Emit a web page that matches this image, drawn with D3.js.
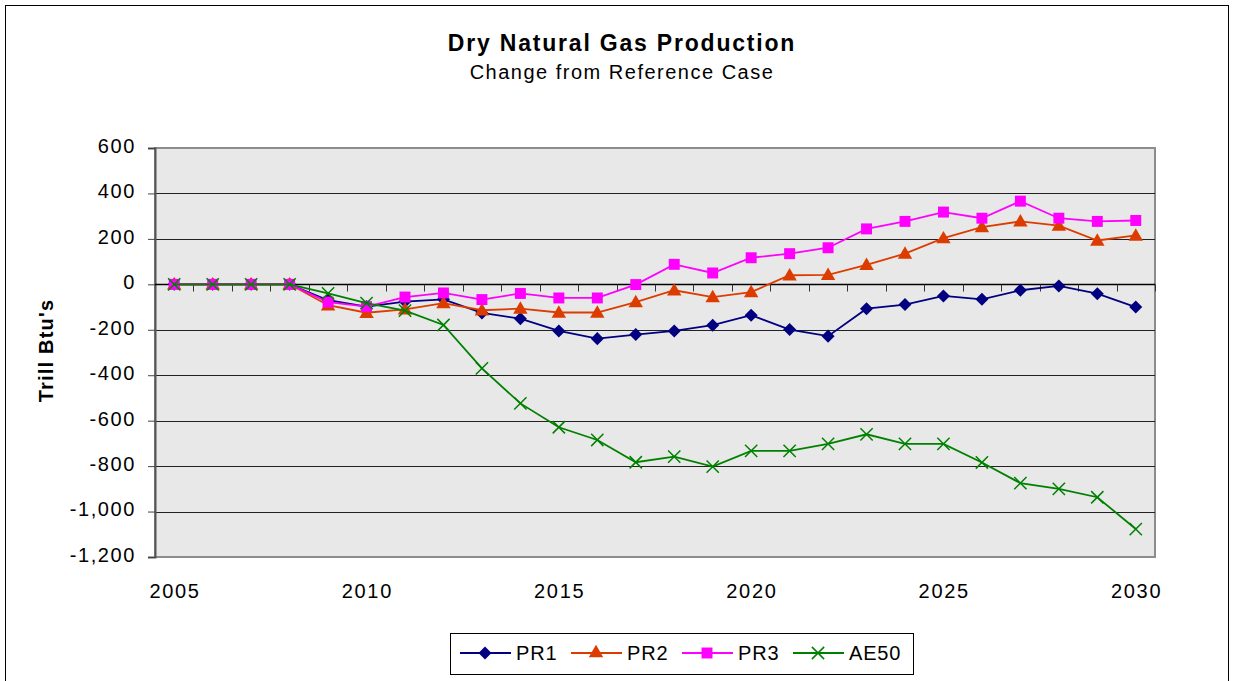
<!DOCTYPE html>
<html>
<head>
<meta charset="utf-8">
<script src="https://cdn.jsdelivr.net/npm/d3@7"></script>
<style>
  body { margin: 0; background: #fff; }
  text { font-family: "Liberation Sans", Arial, sans-serif; }
</style>
</head>
<body>
<script>
const width = 1233;
const height = 681;

const years = d3.range(2005, 2031);
const yTicks = [600, 400, 200, 0, -200, -400, -600, -800, -1000, -1200];
const xLabels = [2005, 2010, 2015, 2020, 2025, 2030];

const pr1 = [0, 0, 0, 0, -70, -98, -76, -66, -126, -151, -205, -239, -221, -205, -180, -136, -199, -228, -107, -89, -51, -66, -26, -7, -41, -100];
const pr2 = [0, 0, 0, 0, -92, -125, -110, -83, -114, -107, -124, -124, -78, -26, -56, -34, 40, 42, 86, 135, 203, 252, 277, 258, 193, 215];
const pr3 = [0, 0, 0, 0, -78, -98, -56, -38, -67, -40, -60, -60, -1, 88, 50, 117, 135, 161, 244, 277, 318, 291, 366, 291, 277, 281];
const ae50 = [0, 0, 0, 0, -40, -83, -116, -179, -370, -524, -629, -685, -783, -758, -802, -733, -733, -702, -660, -702, -702, -784, -875, -900, -937, -1077];

const series = [
  { name: "PR1", values: pr1, color: "#000080", symbol: "diamond" },
  { name: "PR2", values: pr2, color: "#dd3c00", symbol: "triangle" },
  { name: "PR3", values: pr3, color: "#ff00ff", symbol: "square" },
  { name: "AE50", values: ae50, color: "#008000", symbol: "cross" }
];

const plot = { left: 155, right: 1155, top: 148, bottom: 557 };

const svg = d3.select("body")
  .append("svg")
  .attr("width", width)
  .attr("height", height);

// chart frame
svg.append("rect")
  .attr("x", 5.5).attr("y", 5.5)
  .attr("width", 1223).attr("height", 700)
  .attr("fill", "#fff")
  .attr("stroke", "#000")
  .attr("stroke-width", 1);

const x = d3.scaleBand()
  .domain(years)
  .range([plot.left, plot.right]);

const y = d3.scaleLinear()
  .domain([-1200, 600])
  .range([plot.bottom, plot.top]);

const cx = (d) => x(d) + x.bandwidth() / 2;

// plot area
svg.append("rect")
  .attr("x", plot.left).attr("y", plot.top)
  .attr("width", plot.right - plot.left)
  .attr("height", plot.bottom - plot.top)
  .attr("fill", "#e8e8e8")
  .attr("stroke", "#8c8c8c")
  .attr("stroke-width", 2);

// gridlines
svg.append("g")
  .selectAll("line")
  .data(yTicks.filter((d) => d !== 600 && d !== -1200))
  .enter()
  .append("line")
  .attr("x1", plot.left).attr("x2", plot.right)
  .attr("y1", (d) => Math.round(y(d)) + 0.5)
  .attr("y2", (d) => Math.round(y(d)) + 0.5)
  .attr("stroke", "#222")
  .attr("stroke-width", 1);

// y axis
const yAxis = svg.append("g")
  .attr("transform", `translate(${plot.left},0)`)
  .call(d3.axisLeft(y)
    .tickValues(yTicks)
    .tickSize(7)
    .tickPadding(12)
    .tickFormat(d3.format(",")));
yAxis.select(".domain").attr("stroke", "#555").attr("stroke-width", 2);
yAxis.selectAll(".tick line").attr("stroke", "#444");
yAxis.selectAll(".tick text")
  .attr("font-size", 20)
  .attr("fill", "#000")
  .attr("dy", "0.22em")
  .style("font-family", "'Liberation Sans', Arial, sans-serif")
  .style("letter-spacing", "1.6px")
  .text((d) => d3.format(",")(d).replace("−", "-"));

// x axis on the zero line, ticks between categories
const zeroY = Math.round(y(0)) + 0.5;
svg.append("line")
  .attr("x1", plot.left).attr("x2", plot.right)
  .attr("y1", zeroY).attr("y2", zeroY)
  .attr("stroke", "#000").attr("stroke-width", 1.5);

svg.append("g")
  .selectAll("line")
  .data(years.slice(1).concat([2031]))
  .enter()
  .append("line")
  .attr("x1", (d) => Math.round(plot.left + (d - 2005) * x.bandwidth()) + 0.5)
  .attr("x2", (d) => Math.round(plot.left + (d - 2005) * x.bandwidth()) + 0.5)
  .attr("y1", zeroY)
  .attr("y2", zeroY + 7)
  .attr("stroke", "#333");

svg.append("g")
  .selectAll("text")
  .data(xLabels)
  .enter()
  .append("text")
  .attr("x", (d) => cx(d) + 0.8)
  .attr("y", 598)
  .attr("text-anchor", "middle")
  .attr("font-size", 20)
  .style("letter-spacing", "1.7px")
  .text((d) => d);

// lines
const line = d3.line()
  .x((d, i) => cx(years[i]))
  .y((d) => y(d));

const symbolType = {
  diamond: d3.symbolSquare,
  triangle: d3.symbolTriangle,
  square: d3.symbolSquare,
  cross: d3.symbolTimes
};
const symbolSize = { diamond: 85, triangle: 90, square: 120, cross: 100 };

function drawMarker(g, s) {
  const p = d3.symbol().type(symbolType[s.symbol]).size(symbolSize[s.symbol]);
  if (s.symbol === "cross") {
    g.attr("d", p).attr("fill", "none").attr("stroke", s.color).attr("stroke-width", 1.5);
  } else {
    g.attr("d", p).attr("fill", s.color).attr("stroke", "none");
  }
}
const rot = (s) => (s.symbol === "diamond" ? " rotate(45)" : "");

// series drawn in order, so AE50 ends up on top
series.forEach((s) => {
  svg.append("path")
    .datum(s.values)
    .attr("d", line)
    .attr("fill", "none")
    .attr("stroke", s.color)
    .attr("stroke-width", 1.8);
  svg.append("g")
    .selectAll("path")
    .data(s.values)
    .enter()
    .append("path")
    .attr("transform", (d, i) => `translate(${cx(years[i])},${y(d) + (s.symbol === "triangle" ? 1 : 0)})${rot(s)}`)
    .each(function() { drawMarker(d3.select(this), s); });
});

// titles
svg.append("text")
  .attr("x", 622).attr("y", 51)
  .attr("text-anchor", "middle")
  .attr("font-size", 23)
  .attr("font-weight", "bold")
  .style("letter-spacing", "1.8px")
  .text("Dry Natural Gas Production");

svg.append("text")
  .attr("x", 622).attr("y", 79)
  .attr("text-anchor", "middle")
  .attr("font-size", 20)
  .style("letter-spacing", "1.5px")
  .text("Change from Reference Case");

svg.append("text")
  .attr("transform", `translate(53,${(plot.top + plot.bottom) / 2 - 2}) rotate(-90)`)
  .attr("text-anchor", "middle")
  .attr("font-size", 20)
  .attr("font-weight", "bold")
  .style("letter-spacing", "1.2px")
  .text("Trill Btu's");

// legend
const legend = svg.append("g");
legend.append("rect")
  .attr("x", 450.5).attr("y", 633.5)
  .attr("width", 463).attr("height", 41)
  .attr("fill", "#fff")
  .attr("stroke", "#000");

const legendX = [460, 571, 682, 793];
series.forEach((s, i) => {
  const g = legend.append("g").attr("transform", `translate(${legendX[i]},653)`);
  g.append("line")
    .attr("x1", 0).attr("x2", 51)
    .attr("y1", 0).attr("y2", 0)
    .attr("stroke", s.color).attr("stroke-width", 1.8);
  g.append("path")
    .attr("transform", "translate(25,0)" + rot(s))
    .call((p) => drawMarker(p, s));
  g.append("text")
    .attr("x", 56).attr("y", 7)
    .attr("font-size", 20)
    .style("letter-spacing", "0.8px")
    .text(s.name);
});
</script>
</body>
</html>
